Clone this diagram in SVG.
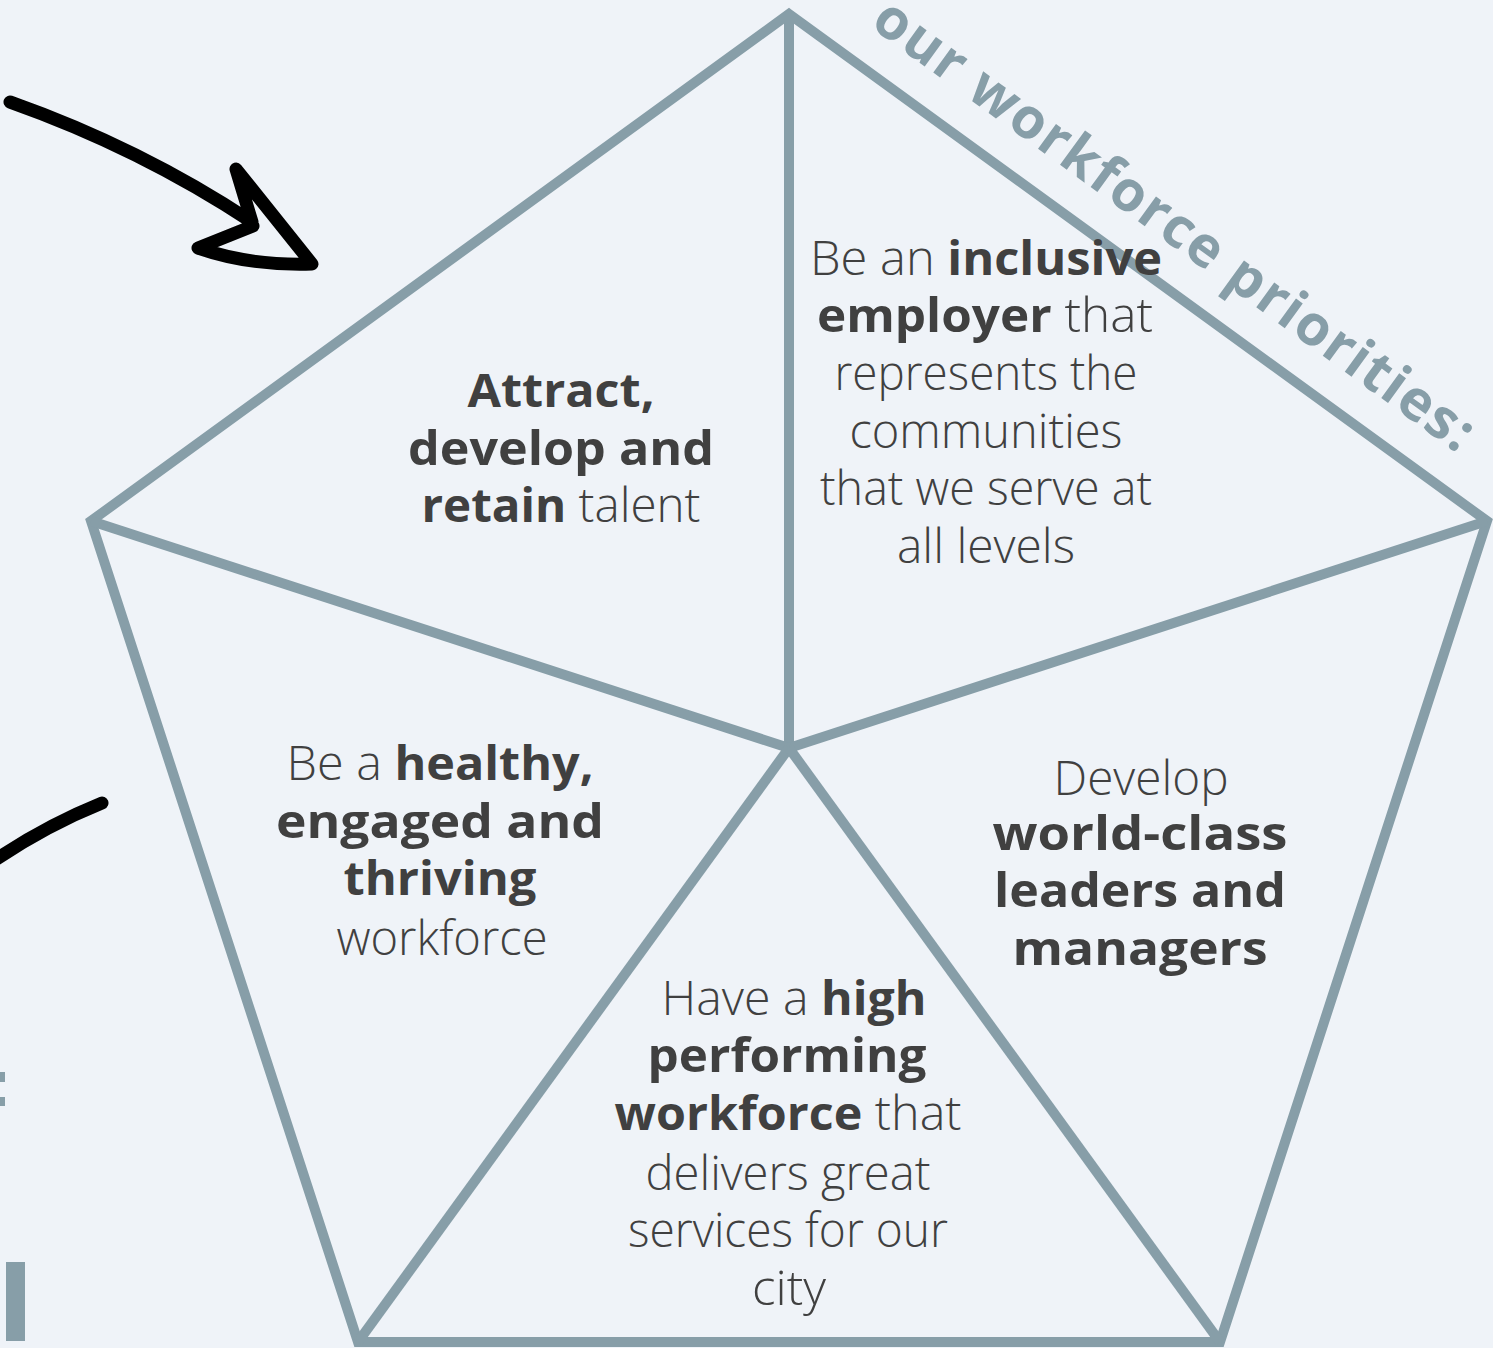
<svg xmlns="http://www.w3.org/2000/svg" width="1493" height="1348" viewBox="0 0 1493 1348">
<style>
.bg{fill:#eff3f8}
.pent{fill:none;stroke:#879ea8;stroke-width:10;stroke-linejoin:miter}
.spoke{stroke:#879ea8;stroke-width:10;stroke-linecap:butt}
.t{font-family:"Open Sans","Liberation Sans",sans-serif;font-size:47px;fill:#404040;font-weight:300;text-anchor:middle}
.b{font-weight:700}
.ink{fill:none;stroke:#000;stroke-width:13;stroke-linecap:round;stroke-linejoin:round}
.title{font-family:"Open Sans","Liberation Sans",sans-serif;font-size:56px;font-weight:700;fill:#879ea8}
.mark{fill:#879ea8}
</style>
<rect class="bg" x="0" y="0" width="1493" height="1348"/>
<g id="decor">
<path class="ink" d="M10,102 Q140,148 252,222 L236,169 L312,264 Q250,266 198,248 L253,226"/>
<path class="ink" d="M-8,862 Q45,826 102,803"/>
<rect class="mark" x="0" y="1072" width="5" height="10"/>
<rect class="mark" x="0" y="1097" width="5" height="9"/>
<rect class="mark" x="6" y="1262" width="19" height="79"/>
<text class="title" transform="translate(869,26) rotate(36)" textLength="728" lengthAdjust="spacing">our workforce priorities:</text>
</g>
<g id="connectors">
<polygon class="pent" points="789,14 1487,521 1220,1342 358,1342 91,521"/>
<line class="spoke" x1="789" y1="748" x2="789" y2="14"/>
<line class="spoke" x1="789" y1="748" x2="1487" y2="521"/>
<line class="spoke" x1="789" y1="748" x2="91" y2="521"/>
<line class="spoke" x1="789" y1="748" x2="358" y2="1342"/>
<line class="spoke" x1="789" y1="748" x2="1220" y2="1342"/>
</g>
<g id="node-attract">
<text class="t" x="561" y="407" textLength="187" lengthAdjust="spacingAndGlyphs"><tspan class="b">Attract,</tspan></text>
<text class="t" x="561" y="465" textLength="306" lengthAdjust="spacingAndGlyphs"><tspan class="b">develop and</tspan></text>
<text class="t" x="561" y="522" textLength="279" lengthAdjust="spacingAndGlyphs"><tspan class="b">retain</tspan> talent</text>
</g>
<g id="node-inclusive">
<text class="t" x="986" y="275" textLength="352" lengthAdjust="spacingAndGlyphs">Be an <tspan class="b">inclusive</tspan></text>
<text class="t" x="985" y="332" textLength="336" lengthAdjust="spacingAndGlyphs"><tspan class="b">employer</tspan> that</text>
<text class="t" x="986" y="390" textLength="303" lengthAdjust="spacingAndGlyphs">represents the</text>
<text class="t" x="986" y="448" textLength="273" lengthAdjust="spacingAndGlyphs">communities</text>
<text class="t" x="986" y="505" textLength="332" lengthAdjust="spacingAndGlyphs">that we serve at</text>
<text class="t" x="986" y="563" textLength="178" lengthAdjust="spacingAndGlyphs">all levels</text>
</g>
<g id="node-healthy">
<text class="t" x="440" y="780" textLength="307" lengthAdjust="spacingAndGlyphs">Be a <tspan class="b">healthy,</tspan></text>
<text class="t" x="440" y="838" textLength="328" lengthAdjust="spacingAndGlyphs"><tspan class="b">engaged and</tspan></text>
<text class="t" x="440" y="895" textLength="193" lengthAdjust="spacingAndGlyphs"><tspan class="b">thriving</tspan></text>
<text class="t" x="442" y="955" textLength="211" lengthAdjust="spacingAndGlyphs">workforce</text>
</g>
<g id="node-leaders">
<text class="t" x="1141" y="795" textLength="175" lengthAdjust="spacingAndGlyphs">Develop</text>
<text class="t" x="1140" y="850" textLength="295" lengthAdjust="spacingAndGlyphs"><tspan class="b">world-class</tspan></text>
<text class="t" x="1140" y="907" textLength="292" lengthAdjust="spacingAndGlyphs"><tspan class="b">leaders and</tspan></text>
<text class="t" x="1140" y="965" textLength="255" lengthAdjust="spacingAndGlyphs"><tspan class="b">managers</tspan></text>
</g>
<g id="node-performing">
<text class="t" x="794" y="1015" textLength="265" lengthAdjust="spacingAndGlyphs">Have a <tspan class="b">high</tspan></text>
<text class="t" x="787" y="1072" textLength="279" lengthAdjust="spacingAndGlyphs"><tspan class="b">performing</tspan></text>
<text class="t" x="788" y="1130" textLength="347" lengthAdjust="spacingAndGlyphs"><tspan class="b">workforce</tspan> that</text>
<text class="t" x="788" y="1190" textLength="285" lengthAdjust="spacingAndGlyphs">delivers great</text>
<text class="t" x="788" y="1247" textLength="320" lengthAdjust="spacingAndGlyphs">services for our</text>
<text class="t" x="789" y="1305" textLength="74" lengthAdjust="spacingAndGlyphs">city</text>
</g>
</svg>
